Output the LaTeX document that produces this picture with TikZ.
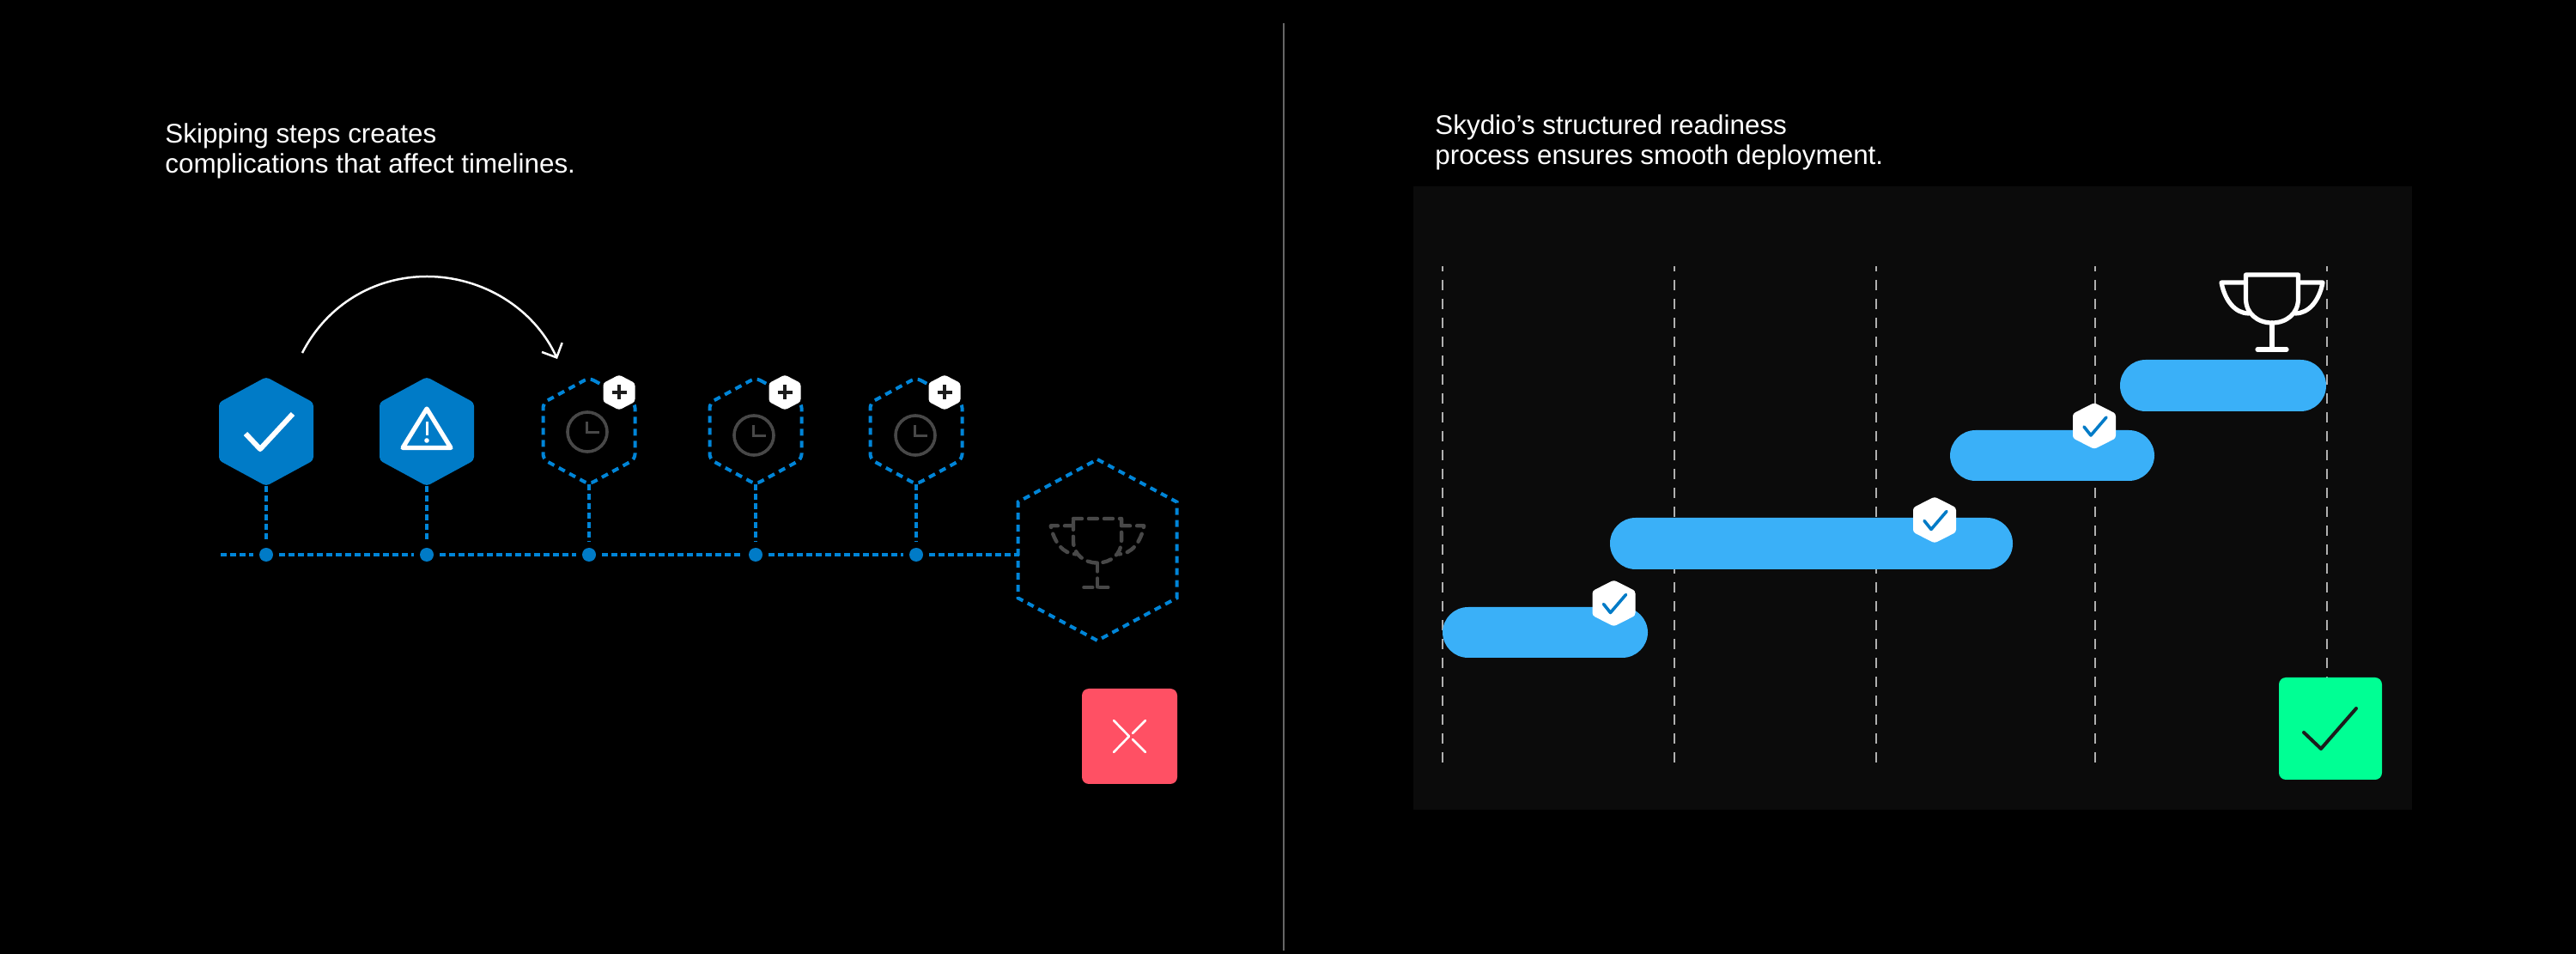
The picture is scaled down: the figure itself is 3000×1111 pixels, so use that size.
\documentclass[tikz,border=0pt]{standalone}
\usepackage{fontspec}
\setmainfont{Liberation Sans}
\usetikzlibrary{arrows.meta}
\definecolor{hexblue}{HTML}{007BC7}
\definecolor{dashblue}{HTML}{0085D8}
\definecolor{barblue}{HTML}{3AB0F8}
\definecolor{panelgrey}{HTML}{0B0B0B}
\definecolor{ghost}{HTML}{484848}
\definecolor{alertred}{HTML}{FF5064}
\definecolor{okgreen}{HTML}{00FF94}
\definecolor{gridgrey}{HTML}{B0B0B0}
\definecolor{dividergrey}{HTML}{666666}
\definecolor{inkdark}{HTML}{1C1C1C}
\tikzset{
  x=0.5pt,y=-0.5pt,
  caption/.style={text=white,anchor=base west,inner sep=0pt,align=left,font=\fontsize{15.7}{17.5}\selectfont},
  hexsolid/.style={fill=hexblue,rounded corners=2pt},
  hexdash/.style={draw=dashblue,line width=2pt,dash pattern=on 4pt off 3pt,rounded corners=3pt},
  hexbadge/.style={fill=white,rounded corners=1.5pt},
  tickline/.style={draw=dashblue,line width=2pt,dash pattern=on 3.5pt off 2pt},
  dotnode/.style={circle,fill=hexblue,minimum size=8pt,inner sep=0pt,outer sep=3.5pt},
  clockline/.style={draw=ghost,line width=1.8pt},
  trophysolid/.style={draw=white,line width=2.6pt,line join=round,line cap=round},
  trophyghost/.style={draw=ghost,line width=2.2pt,line join=round,line cap=round,dash pattern=on 5pt off 4pt},
  gridline/.style={draw=gridgrey,line width=1.3pt,dash pattern=on 6pt off 5pt,dash phase=3pt},
  barshape/.style={fill=barblue,rounded corners=14.9pt},
  badgecheck/.style={draw=hexblue,line width=1.8pt,line join=round,line cap=round},
  plusmark/.style={draw=inkdark,line width=2.2pt},
}
% centre x, centre y, half width, half height, style
\newcommand{\hexfig}[5]{%
  \path[#5] (#1,#2-#4) -- (#1+#3,#2-0.53*#4) -- (#1+#3,#2+0.53*#4) -- (#1,#2+#4)
    -- (#1-#3,#2+0.53*#4) -- (#1-#3,#2-0.53*#4) -- cycle;}
% one step that is still to come: hexagon, clock, plus badge
\newcommand{\pendingstep}[5]{% name, hex x, clock x, clock y, badge x
  \hexfig{#2}{502}{53.5}{62}{hexdash}
  \draw[clockline] (#3,#4) circle[radius=23];
  \draw[clockline,line width=1.5pt] (#3-1,#4-12) -- (#3-1,#4+1) -- (#3+14,#4+1);
  \hexfig{#5}{457}{18.5}{20.5}{hexbadge}
  \draw[plusmark] (#5-8.5,457) -- (#5+8.5,457) (#5,448.5) -- (#5,465.5);
  \coordinate (#1b) at (#2,564);
}
% trophy: top centre x, top y, scale, style
\newcommand{\trophyfig}[4]{%
  \begin{scope}[shift={(#1,#2)},scale=#3]
    \draw[#4] (-30.5,0) -- (30.5,0) -- (30.5,28) .. controls (30.5,45) and (17,56) .. (0,56)
      .. controls (-17,56) and (-30.5,45) .. (-30.5,28) -- cycle;
    \draw[#4] (-30.5,9) -- (-59,9) .. controls (-55,30) and (-43,45) .. (-27,45);
    \draw[#4] (30.5,9) -- (59,9) .. controls (55,30) and (43,45) .. (27,45);
    \draw[#4] (0,56) -- (0,87);
    \draw[#4] (-17,87) -- (17,87);
  \end{scope}}
% small check badge: centre x, centre y
\newcommand{\checkbadge}[2]{%
  \hexfig{#1}{#2}{25}{27}{hexbadge}
  \draw[badgecheck] (#1-12,#2+1) -- (#1-4,#2+11) -- (#1+14,#2-10);}
\begin{document}
\begin{tikzpicture}
\useasboundingbox (0,0) rectangle (3000,1111);
\fill[black] (0,0) rectangle (3000,1111);

% divider
\draw[dividergrey,line width=1pt] (1495,27) -- (1495,1107);

% ---------- left panel ----------
\node[caption] (lefttext) at (192,202) {Skipping steps creates\\complications that affect timelines.};

\coordinate (jumpstart) at (352,411);
\coordinate (jumptop) at (497,322);
\coordinate (jumpend) at (649,418);
\draw[white,line width=1.25pt,-{Straight Barb[length=6.5pt,width=13pt,line width=1.25pt]}]
  (jumpstart) .. controls (380,356) and (435,322) .. (jumptop)
  .. controls (562,322) and (622,359) .. (jumpend);

\hexfig{310}{502.5}{55}{63.5}{hexsolid}
\draw[white,line width=3pt,line join=round] (286,505) -- (303,523) -- (341,482);
\coordinate (h1b) at (310,566);

\hexfig{497}{502.5}{55}{63.5}{hexsolid}
\draw[white,line width=2.6pt,line join=round] (497,476) -- (525,521.5) -- (469,521.5) -- cycle;
\draw[white,line width=1.5pt] (497,491) -- (497,507);
\fill[white] (497,513) circle[radius=2.8];
\coordinate (h2b) at (497,566);

\pendingstep{h3}{686}{684}{503}{721}
\pendingstep{h4}{880}{878}{507}{914}
\pendingstep{h5}{1067}{1066}{507}{1100}

% big goal hexagon
\hexfig{1278}{640.5}{92.5}{105.5}{draw=dashblue,line width=2pt,dash pattern=on 4pt off 3pt}
\trophyfig{1278}{604}{0.92}{trophyghost}

% timeline
\coordinate (linestart) at (257,646);
\coordinate (goalleft) at (1187,646);
\node[dotnode] (d1) at (310,646) {};
\node[dotnode] (d2) at (497,646) {};
\node[dotnode] (d3) at (686,646) {};
\node[dotnode] (d4) at (880,646) {};
\node[dotnode] (d5) at (1067,646) {};
\draw[tickline] (linestart) -- (d1);
\draw[tickline] (d1) -- (d2);
\draw[tickline] (d2) -- (d3);
\draw[tickline] (d3) -- (d4);
\draw[tickline] (d4) -- (d5);
\draw[tickline] (d5) -- (goalleft);
\draw[tickline] (h1b) -- (d1);
\draw[tickline] (h2b) -- (d2);
\draw[tickline] (h3b) -- (d3);
\draw[tickline] (h4b) -- (d4);
\draw[tickline] (h5b) -- (d5);

% red cross box
\fill[alertred,rounded corners=4pt] (1260,802) rectangle (1371,913);
\draw[white,line width=1.3pt,line cap=round,line join=round] (1297,839) -- (1315,857.5) -- (1297,876);
\draw[white,line width=1.3pt,line cap=round] (1334,839) -- (1319,854);
\draw[white,line width=1.3pt,line cap=round] (1319,861) -- (1334,876);

% ---------- right panel ----------
\node[caption] (righttext) at (1671,192) {Skydio’s structured readiness\\process ensures smooth deployment.};

\fill[panelgrey] (1646,217) rectangle (2809,943);

\foreach \gx in {1680,1950,2185,2440,2710}
  \draw[gridline] (\gx,310) -- (\gx,890);

\fill[barshape] (1680,707) rectangle (1919,766);
\fill[barshape] (1875,603) rectangle (2344,663);
\fill[barshape] (2271,501) rectangle (2509,560);
\fill[barshape] (2469,419) rectangle (2709,479);

\checkbadge{1879.5}{702.5}
\checkbadge{2253}{605.5}
\checkbadge{2439}{496}

\trophyfig{2646}{320}{1}{trophysolid}

% green check box
\fill[okgreen,rounded corners=4pt] (2654,789) rectangle (2774,908);
\draw[inkdark,line width=2pt,line cap=round,line join=round] (2683,853) -- (2703,872) -- (2744,825);
\end{tikzpicture}
\end{document}
